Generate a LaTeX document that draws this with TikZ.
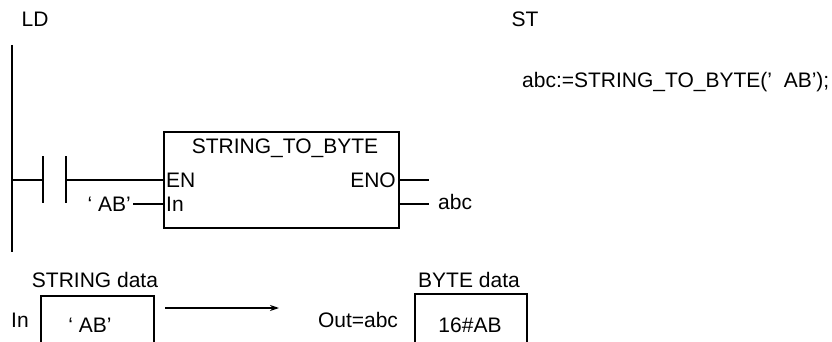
\documentclass[tikz,border=0pt]{standalone}
\usepackage{fontspec}
\setmainfont{Liberation Sans}
\usetikzlibrary{arrows.meta}
\begin{document}
\begin{tikzpicture}[x=1pt,y=-1pt,
  txt/.style={inner sep=0pt,font=\fontsize{21}{24}\selectfont},
  wire/.style={line width=1.4pt},
  rail/.style={line width=2.3pt},
  plate/.style={line width=2pt},
  fbbox/.style={draw,line width=1.6pt,minimum width=235pt,minimum height=96pt,inner sep=0pt},
  databox/.style={line width=1.6pt}]
\useasboundingbox (0,0) rectangle (832,342);
\clip (0,0) rectangle (832,342);
% headings
\node[txt] (ld) at (35,19) {LD};
\node[txt] (st) at (525,19) {ST};
\node[txt,anchor=west] (code) at (522,82) {abc:=STRING\_TO\_BYTE(’\ \ AB’);};
% rail
\coordinate (railtop) at (12,45);
\coordinate (railbot) at (12,252);
\draw[rail] (railtop) -- (railbot);
% contact
\coordinate (rung) at (12,180);
\coordinate (cl) at (43,180);
\coordinate (cr) at (66,180);
\coordinate (cltop) at (43,156);
\coordinate (clbot) at (43,203);
\coordinate (crtop) at (66,156);
\coordinate (crbot) at (66,203);
\draw[plate] (cltop) -- (clbot);
\draw[plate] (crtop) -- (crbot);
\draw[wire] (rung) -- (cl);
% function block
\node[fbbox] (fb) at (281.5,180) {};
\node[txt] (fbname) at (285,148) {STRING\_TO\_BYTE};
\node[txt,anchor=west] (en) at (166,180) {EN};
\node[txt,anchor=east] (eno) at (396,180) {ENO};
\node[txt,anchor=west] (in) at (166,204) {In};
\coordinate (enin) at (fb.west |- en);
\coordinate (inin) at (fb.west |- in);
\coordinate (enoout) at (fb.east |- eno);
\coordinate (outout) at (fb.east |- in);
\draw[wire] (cr) -- (enin);
\node[txt,anchor=east] (ab) at (131,204) {‘ AB’};
\draw[wire] (ab.east) ++(2,0) coordinate (abend) (abend) -- (inin);
\coordinate (enoend) at (429,180);
\coordinate (outend) at (429,204);
\draw[wire] (enoout) -- (enoend);
\draw[wire] (outout) -- (outend);
\node[txt,anchor=west] (abc) at (438,202) {abc};
% bottom data
\node[txt] (sdata) at (95,280) {STRING data};
\node[txt] (inlbl) at (20,320) {In};
\draw[databox] (41,350) -- (41,296) -- (154,296) -- (154,350);
\node[txt] (sval) at (90,325) {‘ AB’};
\coordinate (arrs) at (165,308);
\coordinate (arre) at (279,308);
\draw[wire,-{Stealth[length=9pt,width=6pt]}] (arrs) -- (arre);
\node[txt] (outlbl) at (358,320) {Out=abc};
\node[txt] (bdata) at (469,280) {BYTE data};
\draw[databox] (415,350) -- (415,294) -- (527,294) -- (527,350);
\node[txt] (bval) at (470,325) {16\#AB};
\end{tikzpicture}
\end{document}
